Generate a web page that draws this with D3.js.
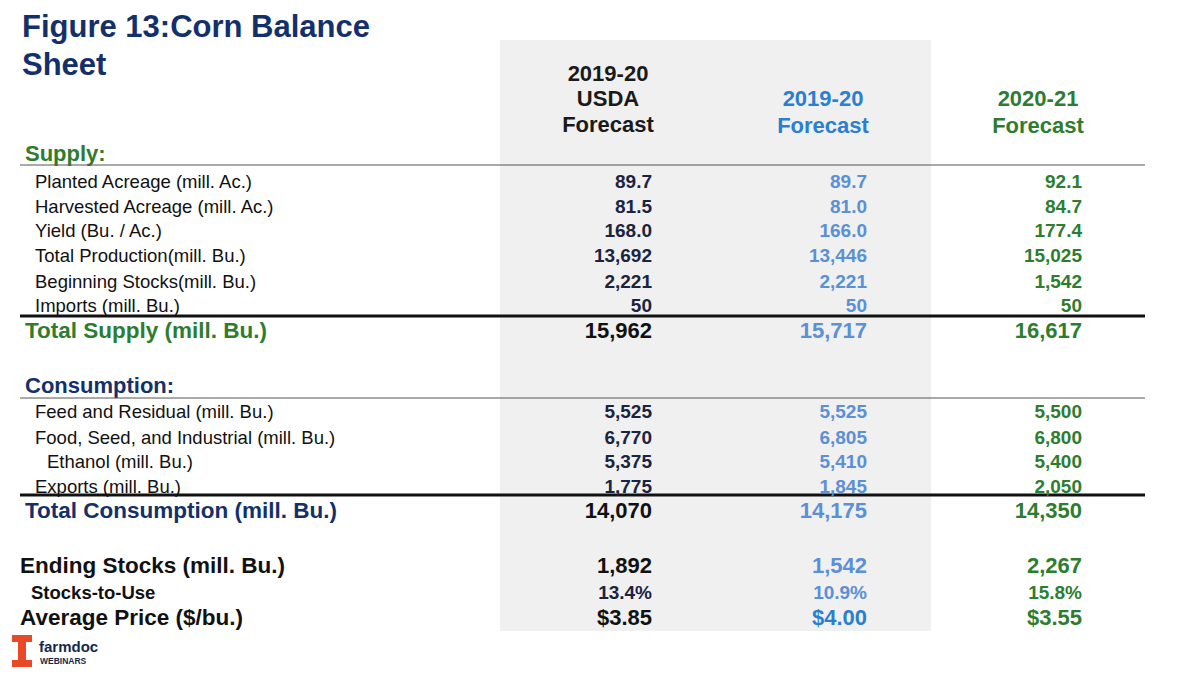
<!DOCTYPE html>
<html><head><meta charset="utf-8">
<script src="https://cdn.jsdelivr.net/npm/d3@7"></script>
<style>body{margin:0;background:#fff}svg{font-family:Arial,"Liberation Sans",sans-serif}</style>
</head><body><svg id="chart" width="1200" height="674"></svg>
<script>
// row labels and the three forecast columns
const rowLabels = ['Planted Acreage (mill. Ac.)','Harvested Acreage (mill. Ac.)','Yield (Bu. / Ac.)','Total Production(mill. Bu.)','Beginning Stocks(mill. Bu.)','Imports (mill. Bu.)','Total Supply (mill. Bu.)',
  'Feed and Residual (mill. Bu.)','Food, Seed, and Industrial (mill. Bu.)','Ethanol (mill. Bu.)','Exports (mill. Bu.)','Total Consumption (mill. Bu.)',
  'Ending Stocks (mill. Bu.)','Stocks-to-Use','Average Price ($/bu.)'];
const usda2019 = ['89.7','81.5','168.0','13,692','2,221','50','15,962','5,525','6,770','5,375','1,775','14,070','1,892','13.4%','$3.85'];
const fcst2019 = ['89.7','81.0','166.0','13,446','2,221','50','15,717','5,525','6,805','5,410','1,845','14,175','1,542','10.9%','$4.00'];
const fcst2021 = ['92.1','84.7','177.4','15,025','1,542','50','16,617','5,500','6,800','5,400','2,050','14,350','2,267','15.8%','$3.55'];
const rowKind = ['n','n','n','n','n','n','ts','n','n','eth','n','tc','end','stu','price'];
const rowY = [181,206,230,255,281,305,331,411,437,461,486,511,566,592,618];

const navy='#13306b', blue='#2a7fd0', lblue='#5b8fd6', green='#2e7d2e';
const svg = d3.select('#chart');
svg.append('rect').attr('x',500).attr('y',40).attr('width',431).attr('height',591).attr('fill','#f0f0f0');

svg.append('text').attr('x',22).attr('y',37).attr('font-size',31).attr('font-weight','bold').attr('fill',navy).text('Figure 13:Corn Balance');
svg.append('text').attr('x',22).attr('y',75).attr('font-size',31).attr('font-weight','bold').attr('fill',navy).text('Sheet');

const colX = d3.scaleOrdinal().domain([0,1,2]).range([652,867,1082]);
const heads = [[['2019-20',73],['USDA',98],['Forecast',124]],[['2019-20',98],['Forecast',125]],[['2020-21',98],['Forecast',125]]];
const headColor = ['#1a1a1a',blue,green];
heads.forEach((h,i)=>h.forEach(([t,y])=>svg.append('text').attr('x',colX(i)-44).attr('y',y+8)
  .attr('text-anchor','middle').attr('font-size',22).attr('font-weight','bold').attr('fill',headColor[i]).text(t)));

function section(t,y,c){svg.append('text').attr('x',25).attr('y',y+8).attr('font-size',22).attr('font-weight','bold').attr('fill',c).text(t);}
section('Supply:',153,green); section('Consumption:',385,navy);
[[165,1,'#555'],[316,3,'#111'],[398,1,'#555'],[495,3,'#111']].forEach(([y,w,c])=>
  svg.append('line').attr('x1',20).attr('x2',1145).attr('y1',y).attr('y2',y).attr('stroke',c).attr('stroke-width',w));

const g = svg.selectAll('.row').data(rowLabels.map((l,i)=>({l,k:rowKind[i],y:rowY[i],v:[usda2019[i],fcst2019[i],fcst2021[i]]})))
  .join('g').attr('class','row').attr('transform',d=>`translate(0,${d.y+7})`);
const big = k=>['ts','tc','end','price'].includes(k);
g.append('text').attr('x',d=>d.k==='eth'?47:d.k==='ts'||d.k==='tc'?25:d.k==='end'||d.k==='price'?20:d.k==='stu'?31:35)
  .attr('font-size',d=>big(d.k)?22.5:d.k==='stu'?18.5:18.5)
  .attr('font-weight',d=>d.k==='n'||d.k==='eth'?'normal':'bold')
  .attr('fill',d=>d.k==='ts'?green:d.k==='tc'?navy:'#111').text(d=>d.l);
g.selectAll('.v').data(d=>d.v.map((v,i)=>({v,i,k:d.k}))).join('text').attr('class','v')
  .attr('x',d=>colX(d.i)).attr('text-anchor','end').attr('font-weight','bold')
  .attr('font-size',d=>big(d.k)?22:19)
  .attr('fill',d=>d.i===0?(big(d.k)?'#111':'#1a2440'):d.i===1?(d.k==='price'?blue:lblue):green)
  .text(d=>d.v);

// logo
const lg = svg.append('g').attr('transform','translate(12,635)');
lg.append('path').attr('d','M0,0H20V7H14V25H20V32H0V25H6V7H0Z').attr('fill','#e84a27');
lg.append('text').attr('x',27).attr('y',17).attr('font-size',15).attr('font-weight','bold').attr('fill','#13294b').text('farmdoc');
lg.append('text').attr('x',28).attr('y',29).attr('font-size',8.5).attr('font-weight','bold').attr('fill','#13294b').text('WEBINARS');
</script></body></html>
